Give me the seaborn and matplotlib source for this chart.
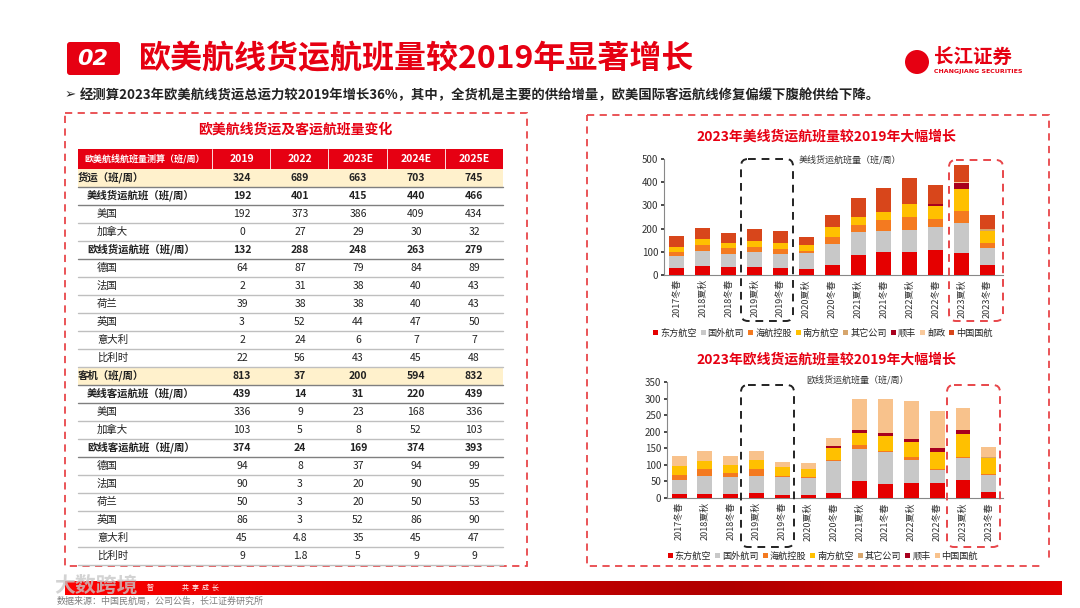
import numpy as np
import matplotlib
matplotlib.use('Agg')
from matplotlib import pyplot as plt
from matplotlib.patches import Rectangle, FancyBboxPatch, Patch, Circle
from matplotlib.colors import LinearSegmentedColormap
import seaborn as sns

## data: table
years = ['2019', '2022', '2023E', '2024E', '2025E']
row_names = ['货运（班/周）', '美线货运航班（班/周）', '美国', '加拿大', '欧线货运航班（班/周）',
             '德国', '法国', '荷兰', '英国', '意大利', '比利时',
             '客机（班/周）', '美线客运航班（班/周）', '美国', '加拿大', '欧线客运航班（班/周）',
             '德国', '法国', '荷兰', '英国', '意大利', '比利时']
row_level = [0, 1, 2, 2, 1, 2, 2, 2, 2, 2, 2, 0, 1, 2, 2, 1, 2, 2, 2, 2, 2, 2]
row_values = [
    ['324', '689', '663', '703', '745'],
    ['192', '401', '415', '440', '466'],
    ['192', '373', '386', '409', '434'],
    ['0', '27', '29', '30', '32'],
    ['132', '288', '248', '263', '279'],
    ['64', '87', '79', '84', '89'],
    ['2', '31', '38', '40', '43'],
    ['39', '38', '38', '40', '43'],
    ['3', '52', '44', '47', '50'],
    ['2', '24', '6', '7', '7'],
    ['22', '56', '43', '45', '48'],
    ['813', '37', '200', '594', '832'],
    ['439', '14', '31', '220', '439'],
    ['336', '9', '23', '168', '336'],
    ['103', '5', '8', '52', '103'],
    ['374', '24', '169', '374', '393'],
    ['94', '8', '37', '94', '99'],
    ['90', '3', '20', '90', '95'],
    ['50', '3', '20', '50', '53'],
    ['86', '3', '52', '86', '90'],
    ['45', '4.8', '35', '45', '47'],
    ['9', '1.8', '5', '9', '9'],
]

## data: stacked bars
periods = ['2017冬春', '2018夏秋', '2018冬春', '2019夏秋', '2019冬春', '2020夏秋', '2020冬春',
           '2021夏秋', '2021冬春', '2022夏秋', '2022冬春', '2023夏秋', '2023冬春']

us_names = ['东方航空', '国外航司', '海航控股', '南方航空', '其它公司', '顺丰', '邮政', '中国国航']
us_dongfang = [30, 37, 34, 36, 32, 27, 42, 85, 99, 99, 106, 95, 43]
us_foreign = [50, 65, 56, 64, 57, 66, 91, 101, 90, 96, 99, 130, 73]
us_hainan = [19, 28, 25, 20, 23, 10, 32, 30, 46, 57, 37, 49, 24]
us_southern = [20, 26, 21, 25, 24, 25, 44, 35, 37, 52, 57, 97, 48]
us_other = [0, 0, 0, 0, 0, 0, 0, 0, 0, 0, 0, 0, 10]
us_sf = [0, 0, 0, 0, 0, 0, 0, 0, 0, 4, 6, 24, 0]
us_post = [0, 0, 0, 0, 0, 0, 0, 0, 0, 0, 0, 4, 0]
us_airchina = [47, 46, 47, 54, 53, 35, 50, 80, 102, 110, 82, 76, 60]

eu_names = ['东方航空', '国外航司', '海航控股', '南方航空', '其它公司', '顺丰', '中国国航']
eu_dongfang = [13, 13, 13, 14, 10, 10, 14, 50, 43, 45, 45, 55, 18]
eu_foreign = [42, 52, 50, 51, 53, 49, 99, 98, 97, 71, 40, 65, 51]
eu_hainan = [13, 22, 11, 22, 4, 3, 3, 12, 3, 7, 4, 3, 4]
eu_southern = [28, 24, 26, 28, 27, 24, 34, 36, 43, 47, 51, 70, 47]
eu_other = [0, 0, 0, 0, 0, 0, 0, 0, 0, 0, 0, 0, 4]
eu_sf = [0, 0, 0, 0, 0, 0, 7, 10, 10, 9, 11, 13, 0]
eu_airchina = [32, 31, 27, 28, 15, 19, 24, 94, 103, 113, 113, 66, 30]

RED = '#E60012'
us_colors = ['#E50000', '#C8C8C8', '#F47A20', '#FFC000', '#D6A56C', '#A8001E', '#F9C99B', '#D8461B']
eu_colors = ['#E50000', '#C8C8C8', '#F47A20', '#FFC000', '#D6A56C', '#A8001E', '#F8C28C']

sns.set_theme(style='white')
plt.rcParams['font.family'] = ['Noto Sans CJK SC', 'DejaVu Sans']
plt.rcParams['axes.unicode_minus'] = False

W, H = 1080, 608
fig = plt.figure(figsize=(10.8, 6.08), dpi=100)

## background canvas in pixel coordinates
bg = fig.add_axes([0, 0, 1, 1])
bg.set_xlim(0, W)
bg.set_ylim(H, 0)
bg.axis('off')
bg.set_zorder(0)


def fa(x0, y0, x1, y1):
    return [x0 / W, 1 - y1 / H, (x1 - x0) / W, (y1 - y0) / H]


## header
bg.add_patch(FancyBboxPatch((67, 42), 53, 33, boxstyle='round,pad=0,rounding_size=3',
                            fc=RED, ec='none'))
bg.text(93, 59, '02', color='white', fontsize=16, fontweight='bold', fontstyle='italic',
        ha='center', va='center', family='DejaVu Sans')
bg.text(139, 59, '欧美航线货运航班量较2019年显著增长', color=RED, fontsize=23,
        fontweight='bold', ha='left', va='center')
bg.add_patch(Circle((917, 62), 12, fc=RED, ec='none'))
bg.text(934, 57, '长江证券', color=RED, fontsize=14, fontweight='bold', ha='left', va='center')
bg.text(934, 71, 'CHANGJIANG SECURITIES', color=RED, fontsize=4.5, fontweight='bold',
        ha='left', va='center', family='DejaVu Sans')
bg.text(65, 95, '➢ ', color='#222222', fontsize=9.6, fontweight='bold', ha='left', va='center',
        family='DejaVu Sans')
bg.text(80, 95, '经测算2023年欧美航线货运总运力较2019年增长36%，其中，全货机是主要的供给增量，'
        '欧美国际客运航线修复偏缓下腹舱供给下降。', color='#222222', fontsize=9.6,
        fontweight='bold', ha='left', va='center')

## panels
for x0, y0, x1, y1 in [(65, 113, 527, 566), (587, 115, 1049, 566)]:
    bg.add_patch(Rectangle((x0, y0), x1 - x0, y1 - y0, fc='none', ec='#E8464A', lw=1.3,
                           ls=(0, (4, 3))))

## table
bg.text(295, 130, '欧美航线货运及客运航班量变化', color=RED, fontsize=10, fontweight='bold',
        ha='center', va='center')
tx0, tx1 = 78, 503
col_cx = [242, 300, 358, 416, 474]
col_div = [212, 270, 328, 387, 445]
bg.add_patch(Rectangle((tx0, 149), tx1 - tx0, 20, fc=RED, ec='none'))
for xd in col_div:
    bg.plot([xd, xd], [149, 169], color='white', lw=0.6)
bg.text(84, 159, '欧美航线航班量测算（班/周）', color='white', fontsize=6.5, fontweight='bold',
        ha='left', va='center')
for cx, yr in zip(col_cx, years):
    bg.text(cx, 159, yr, color='white', fontsize=7.5, fontweight='bold', ha='center', va='center')

row_h = 18.0
for i, (name, lvl, vals) in enumerate(zip(row_names, row_level, row_values)):
    top = 168.7 + i * row_h
    cy = top + row_h / 2
    if lvl == 0:
        bg.add_patch(Rectangle((tx0, top), tx1 - tx0, row_h, fc='#FFF1CC', ec='none'))
    bold = 'bold' if lvl < 2 else 'normal'
    indent = [0, 9, 19][lvl]
    bg.text(tx0 + indent, cy, name, color='#222222', fontsize=7.5, fontweight=bold,
            ha='left', va='center')
    for cx, v in zip(col_cx, vals):
        bg.text(cx, cy, v, color='#222222', fontsize=7.5, fontweight=bold,
                ha='center', va='center')
    line_c = '#7F7F7F' if lvl < 2 else '#BFBFBF'
    bg.plot([tx0, tx1], [top + row_h, top + row_h], color=line_c, lw=1.0)


## stacked bar charts
def stacked(rect, layers, colors, names, ymax, ystep, xlim, title, title_xy, inner, inner_xy,
            leg_xy):
    ax = fig.add_axes(fa(*rect))
    ax.patch.set_alpha(0)
    cum = np.cumsum(np.array(layers, dtype=float), axis=0)
    for i in reversed(range(len(layers))):
        sns.barplot(x=periods, y=cum[i], color=colors[i], ax=ax, width=0.58, saturation=1,
                    linewidth=0, zorder=3)
    ax.set_xlim(*xlim)
    ax.set_ylim(0, ymax)
    ax.set_yticks(np.arange(0, ymax + 1, ystep))
    ax.tick_params(axis='y', labelsize=7, colors='#333333', length=2, pad=2, left=True)
    ax.set_xticks(range(len(periods)))
    ax.set_xticklabels(periods, rotation=90, fontsize=6.5, color='#333333')
    ax.tick_params(axis='x', length=0, pad=3)
    for s in ['top', 'right']:
        ax.spines[s].set_visible(False)
    for s in ['left', 'bottom']:
        ax.spines[s].set_color('#888888')
        ax.spines[s].set_linewidth(0.8)
    ax.set_xlabel('')
    ax.set_ylabel('')
    bg.text(title_xy[0], title_xy[1], title, color=RED, fontsize=10, fontweight='bold',
            ha='center', va='center')
    bg.text(inner_xy[0], inner_xy[1], inner, color='#333333', fontsize=6.5,
            ha='center', va='center')
    handles = [Patch(fc=c, ec='none', label=n) for c, n in zip(colors, names)]
    fig.legend(handles=handles, loc='center', bbox_to_anchor=(leg_xy[0] / W, 1 - leg_xy[1] / H),
               ncol=len(names), fontsize=6.6, frameon=False, handlelength=0.55, handleheight=0.55,
               handletextpad=0.2, columnspacing=0.45, borderaxespad=0, borderpad=0)
    return ax


stacked((664, 159, 1003, 275),
        [us_dongfang, us_foreign, us_hainan, us_southern, us_other, us_sf, us_post, us_airchina],
        us_colors, us_names, 500, 100, (-0.5, 12.6),
        '2023年美线货运航班量较2019年大幅增长', (826, 137),
        '美线货运航班量（班/周）', (850, 160), (823, 333))

stacked((667, 382, 1003, 498),
        [eu_dongfang, eu_foreign, eu_hainan, eu_southern, eu_other, eu_sf, eu_airchina],
        eu_colors, eu_names, 350, 50, (-0.47, 12.55),
        '2023年欧线货运航班量较2019年大幅增长', (826, 360),
        '欧线货运航班量（班/周）', (858, 380), (823, 556))

## highlight boxes (on top)
fg = fig.add_axes([0, 0, 1, 1])
fg.set_xlim(0, W)
fg.set_ylim(H, 0)
fg.axis('off')
fg.patch.set_alpha(0)
for x0, y0, x1, y1, c in [(741, 159, 793, 321, '#222222'), (949, 160, 1003, 321, '#E8464A'),
                          (741, 385, 794, 547, '#222222'), (947, 385, 1000, 547, '#E8464A')]:
    fg.add_patch(FancyBboxPatch((x0, y0), x1 - x0, y1 - y0,
                                boxstyle='round,pad=0,rounding_size=7', fc='none', ec=c,
                                lw=1.4, ls=(0, (4, 3))))

## footer
cmap = LinearSegmentedColormap.from_list('band', ['#FF0000', '#D00000', '#B00000', '#E00000'])
grad = np.linspace(0, 1, 256).reshape(1, -1)
fg.imshow(grad, cmap=cmap, extent=(65, 1062, 595, 581), aspect='auto', zorder=1)
fg.add_patch(FancyBboxPatch((1040, 560), 22, 35, boxstyle='round,pad=0,rounding_size=14',
                            fc='#E00000', ec='none', zorder=0.5))
fg.add_patch(Rectangle((1040, 560), 22, 21, fc='white', ec='none', zorder=0.6))
fg.set_xlim(0, W)
fg.set_ylim(H, 0)
fg.text(150, 588, '智', color='white', fontsize=5, ha='center', va='center')
fg.text(200, 588, '共  享  成  长', color='white', fontsize=5, ha='center', va='center')
fg.text(57, 601, '数据来源：中国民航局，公司公告，长江证券研究所', color='#808080', fontsize=6.5,
        ha='left', va='center')
fg.text(96, 585, '大数跨境', color='#C8C8C8', fontsize=15, fontweight='bold', ha='center',
        va='center', alpha=0.8)

fig.savefig('out.png', dpi=100, facecolor='white')
